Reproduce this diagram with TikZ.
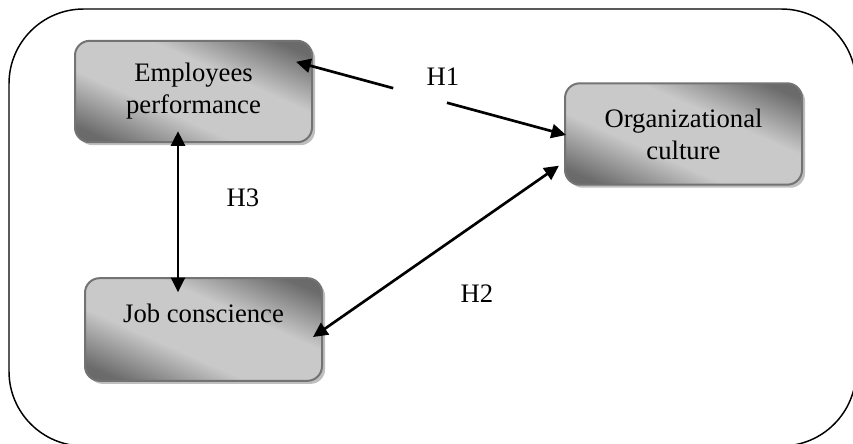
\documentclass[tikz,border=0pt]{standalone}
\usepackage{fontspec}
\setmainfont{Liberation Serif}
\usetikzlibrary{calc,shadows,arrows.meta}

% grey fill: dark towards two opposite corners, a broad light band between them
\pgfdeclareverticalshading{boxband}{100bp}{%
  color(0bp)=(black!62); color(22bp)=(black!58); color(40bp)=(black!21);
  color(60bp)=(black!21); color(78bp)=(black!58); color(100bp)=(black!62)}

\tikzset{
  concept/.style={
    draw=black!55, line width=1.5pt, rounded corners=11pt,
    minimum width=177.75pt, minimum height=76pt, align=center,
    shading=boxband, shading angle=-24,
    font=\fontsize{20}{24}\selectfont,
    drop shadow={shadow xshift=2.3pt, shadow yshift=-2.3pt, fill=black!25, opacity=1}
  },
  link/.style={line width=2pt, -{Triangle[length=11pt,width=10.5pt]}},
  biglink/.style={line width=2pt, {Triangle[length=11pt,width=10.5pt]}-{Triangle[length=11pt,width=10.5pt]}},
  hyp/.style={font=\fontsize{20}{24}\selectfont, inner sep=0pt},
  frame/.style={line width=1.1pt, rounded corners=56pt}
}

\begin{document}
\begin{tikzpicture}[x=0.75pt, y=-0.75pt]
  \useasboundingbox (0,0) rectangle (853,443);
  \clip (0,0) rectangle (853,443);

  % outer frame
  \draw[frame] (9,9) rectangle (856,446);

  % concept boxes
  \node[concept] (ep) at (193.5,91.5) {Employees\\performance};
  \node[concept] (oc) at (683.5,134) {Organizational\\culture};
  \node[concept, minimum height=77pt] (jc) at (203.5,329.5) {Job conscience\\\mbox{}};

  % arrow end points on the boxes
  \coordinate (epR) at ($(ep.north east)+(-17,22)$);
  \coordinate (ocL) at ($(oc.west)+(2,1)$);
  \coordinate (g1) at ($(epR)!0.36!(ocL)$);
  \coordinate (g2) at ($(epR)!0.559!(ocL)$);
  \coordinate (jcR) at ($(jc.east)+(-10,7.5)$);
  \coordinate (ocB) at ($(oc.south west)+(-5,-20)$);
  \coordinate (epB) at ($(ep.south)+(-15.5,-12)$);
  \coordinate (jcT) at ($(jc.north)+(-25.5,15)$);

  % H1: broken connector between performance and culture
  \draw[link] (g1) -- (epR);
  \draw[link] (g2) -- (ocL);
  \node[hyp] (h1) at (443,77) {H1};

  % H2: job conscience and culture
  \draw[biglink] (jcR) -- (ocB);
  \node[hyp] (h2) at (477,294) {H2};

  % H3: performance and job conscience
  \draw[biglink] (epB) -- (jcT);
  \node[hyp] (h3) at (243,198) {H3};
\end{tikzpicture}
\end{document}
